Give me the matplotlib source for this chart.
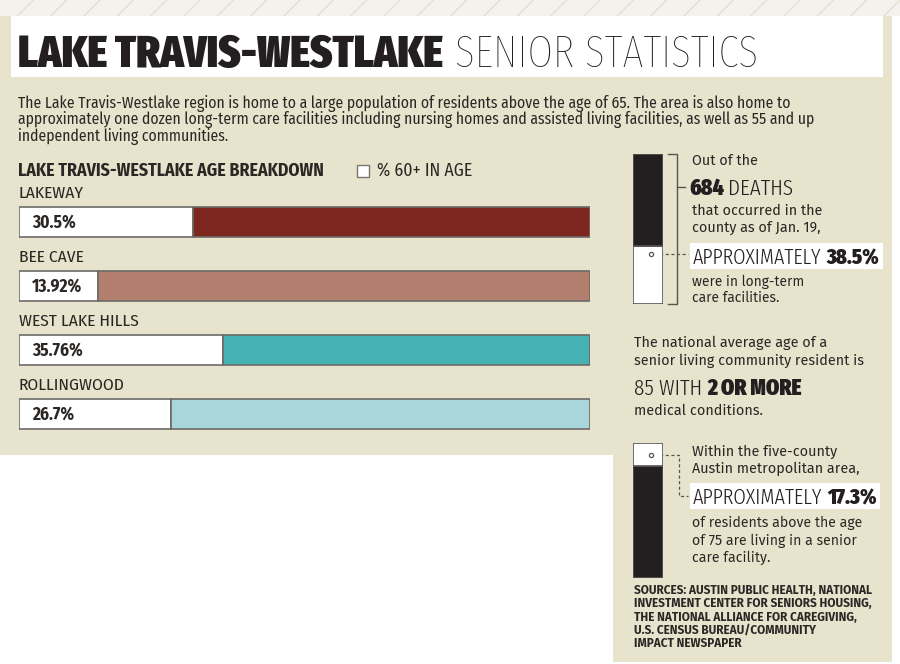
import matplotlib
matplotlib.use("Agg")
import matplotlib.pyplot as plt
from matplotlib.patches import Rectangle

# ---- data ----
places = ["LAKEWAY", "BEE CAVE", "WEST LAKE HILLS", "ROLLINGWOOD"]
pct_60_plus = [30.5, 13.92, 35.76, 26.7]
pct_labels = ["30.5%", "13.92%", "35.76%", "26.7%"]
bar_colors = ["#7e2620", "#b27f6e", "#46b2b3", "#a8d6da"]

county_deaths = 684
ltc_death_share = 38.5        # % of deaths in long-term care facilities
senior_care_share = 17.3      # % of residents 75+ living in senior care

intro_lines = [
    "The Lake Travis-Westlake region is home to a large population of residents above the age of 65. The area is also home to",
    "approximately one dozen long-term care facilities including nursing homes and assisted living facilities, as well as 55 and up",
    "independent living communities.",
]
sources_lines = [
    "SOURCES: AUSTIN PUBLIC HEALTH, NATIONAL",
    "INVESTMENT CENTER FOR SENIORS HOUSING,",
    "THE NATIONAL ALLIANCE FOR CAREGIVING,",
    "U.S. CENSUS BUREAU/COMMUNITY",
    "IMPACT NEWSPAPER",
]

# ---- fonts / colours ----
HEAVY = ["Fira Sans Extra Condensed", "Anton", "Roboto Condensed", "DejaVu Sans"]
THIN = ["Fira Sans Extra Condensed", "Saira ExtraCondensed", "Roboto Condensed", "DejaVu Sans"]
COND = ["Fira Sans Condensed", "Roboto Condensed", "Liberation Sans Narrow", "DejaVu Sans"]
HUMAN = ["Fira Sans", "Noto Sans", "DejaVu Sans"]
THIN_W = 300
INK = "#2b2725"
DARK = "#231f20"
BEIGE = "#e8e3cd"
EDGE = "#6b6b66"

fig = plt.figure(figsize=(9, 6.64), dpi=100)
bg = fig.add_axes([0, 0, 1, 1])
bg.set_xlim(0, 900)
bg.set_ylim(664, 0)
bg.axis("off")
renderer = fig.canvas.get_renderer()


def px_axes(x0, y0, x1, y1):
    return fig.add_axes([x0 / 900, 1 - y1 / 664, (x1 - x0) / 900, (y1 - y0) / 664])


def fit(t, width):
    w = t.get_window_extent(renderer).width
    t.set_fontsize(t.get_fontsize() * width / w)
    return t.get_fontsize()


def width_of(t):
    return t.get_window_extent(renderer).width


def pair(x, y, first, second, total, fam1, fam2, w1="normal", w2="normal", gap=5, size=20):
    t1 = bg.text(x, y, first, family=fam1, weight=w1, fontsize=size, color=DARK, va="baseline")
    t2 = bg.text(x, y, second, family=fam2, weight=w2, fontsize=size, color=DARK, va="baseline")
    k = (total - gap) / (width_of(t1) + width_of(t2))
    t1.set_fontsize(size * k)
    t2.set_fontsize(size * k)
    t2.set_x(x + width_of(t1) + gap)
    return t1, t2


def block(x, baselines, lines, fam, width, ref=0, weight="normal", color=INK):
    ts = [bg.text(x, b, s, family=fam, weight=weight, fontsize=10, color=color, va="baseline")
          for b, s in zip(baselines, lines)]
    size = fit(ts[ref], width)
    for t in ts:
        t.set_fontsize(size)
    return ts


# ---- background panels ----
bg.add_patch(Rectangle((0, 0), 900, 664, fc="white", lw=0))
bg.add_patch(Rectangle((0, 0), 900, 16, fc="#f4f2ec", ec="#e4e0d3", hatch="/", lw=0))
bg.add_patch(Rectangle((0, 16), 613, 439, fc=BEIGE, lw=0))
bg.add_patch(Rectangle((613, 16), 279, 646, fc=BEIGE, lw=0))
bg.add_patch(Rectangle((11, 16), 872, 61, fc="white", lw=0))

# ---- title ----
t_bold = bg.text(18, 67, "LAKE TRAVIS-WESTLAKE", family=HEAVY, weight="black", fontsize=36,
                 color=DARK, va="baseline")
fit(t_bold, 425)
t_thin = bg.text(455, 67, "SENIOR STATISTICS", family=THIN, weight=200, fontsize=36,
                 color=DARK, va="baseline")
fit(t_thin, 303)

block(18, [108, 124, 141], intro_lines, COND, 772)

# ---- age breakdown ----
head = bg.text(18, 176, "LAKE TRAVIS-WESTLAKE AGE BREAKDOWN", family=COND, weight="bold",
               fontsize=10, color=INK, va="baseline")
fit(head, 304)
bg.add_patch(Rectangle((357, 165), 12, 12, fc="white", ec="#777770", lw=1))
leg = bg.text(377, 176, "% 60+ IN AGE", family=COND, fontsize=10, color=INK, va="baseline")
fit(leg, 95)

ax = px_axes(19, 190, 590, 446)
ax.set_xlim(0, 100)
ax.set_ylim(3.5, -0.5)
ax.axis("off")
ypos = list(range(len(places)))
rest = [100 - p for p in pct_60_plus]
ax.barh(ypos, pct_60_plus, height=0.47, color="white", edgecolor=EDGE, linewidth=1.2)
ax.barh(ypos, rest, left=pct_60_plus, height=0.47, color=bar_colors, edgecolor=EDGE, linewidth=1.2)
for i, (name, lab) in enumerate(zip(places, pct_labels)):
    ax.text(0, i - 0.37, name, family=COND, fontsize=head.get_fontsize() * 0.98, color=INK,
            va="baseline", clip_on=False)
    ax.text(2.3, i, lab, family=COND, weight="bold", fontsize=head.get_fontsize() * 0.98,
            color=INK, va="center")

# ---- deaths column ----
ax1 = px_axes(633, 154, 663, 304)
ax1.set_xlim(-0.5, 0.5)
ax1.set_ylim(0, 100)
ax1.axis("off")
ax1.bar(0, ltc_death_share, width=1, color="white", edgecolor="#555550", linewidth=1.2)
ax1.bar(0, 100 - ltc_death_share, bottom=ltc_death_share, width=1, color=DARK,
        edgecolor="#555550", linewidth=1.2)
ax1.plot([0.1], [ltc_death_share - 5], marker="o", ms=3, mfc="white", mec="#555550", mew=0.9)
mx, my = bg.transData.inverted().transform(ax1.transData.transform((0.1, ltc_death_share - 5)))
bg.plot([mx + 3, 688], [my, my], color="#555550", lw=0.9, ls=(0, (2.5, 2)))

bg.plot([668, 677, 677, 668], [154, 154, 304, 304], color="#555550", lw=1)
bg.plot([677, 685], [187, 187], color="#555550", lw=1)

block(692, [165, 215, 232], ["Out of the", "that occurred in the", "county as of Jan. 19,"],
      HUMAN, 129, ref=1)
pair(689, 195, str(county_deaths), "DEATHS", 104, HEAVY, THIN, w1="black", w2=THIN_W, gap=4)
bg.add_patch(Rectangle((690, 243), 193, 26, fc="white", lw=0))
pair(693, 264, "APPROXIMATELY", f"{ltc_death_share}%", 187, THIN, HEAVY, w1=THIN_W, w2="black",
     gap=5)
block(692, [286, 302], ["were in long-term", "care facilities."], HUMAN, 129 * 0.87, ref=0)

# ---- national average ----
block(634, [347, 365], ["The national average age of a", "senior living community resident is"],
      HUMAN, 228, ref=1)
pair(634, 395, "85 WITH", "2 OR MORE", 168, THIN, HEAVY, w1=THIN_W, w2="black", gap=5)
block(634, [415], ["medical conditions."], HUMAN, 128)

# ---- senior care column ----
ax2 = px_axes(633, 443, 663, 578)
ax2.set_xlim(-0.5, 0.5)
ax2.set_ylim(0, 100)
ax2.axis("off")
ax2.bar(0, 100 - senior_care_share, width=1, color=DARK, edgecolor="#555550", linewidth=1.2)
ax2.bar(0, senior_care_share, bottom=100 - senior_care_share, width=1, color="white",
        edgecolor="#555550", linewidth=1.2)
mark_y = 100 - senior_care_share / 2
ax2.plot([0.1], [mark_y], marker="o", ms=3, mfc="white", mec="#555550", mew=0.9)
mx, my = bg.transData.inverted().transform(ax2.transData.transform((0.1, mark_y)))
bg.plot([mx + 3, 679, 679, 688], [my, my, 496, 496], color="#555550", lw=0.9, ls=(0, (2.5, 2)))

block(692, [456, 473], ["Within the five-county", "Austin metropolitan area,"], HUMAN, 166, ref=1)
bg.add_patch(Rectangle((690, 483), 190, 26, fc="white", lw=0))
pair(693, 504, "APPROXIMATELY", f"{senior_care_share}%", 185, THIN, HEAVY, w1=THIN_W, w2="black",
     gap=5)
block(692, [527, 545, 562],
      ["of residents above the age", "of 75 are living in a senior", "care facility."],
      HUMAN, 170, ref=0)

block(634, [594, 607, 621, 634, 647], sources_lines, HUMAN, 238, weight="bold")

fig.savefig("out.png", dpi=100)
